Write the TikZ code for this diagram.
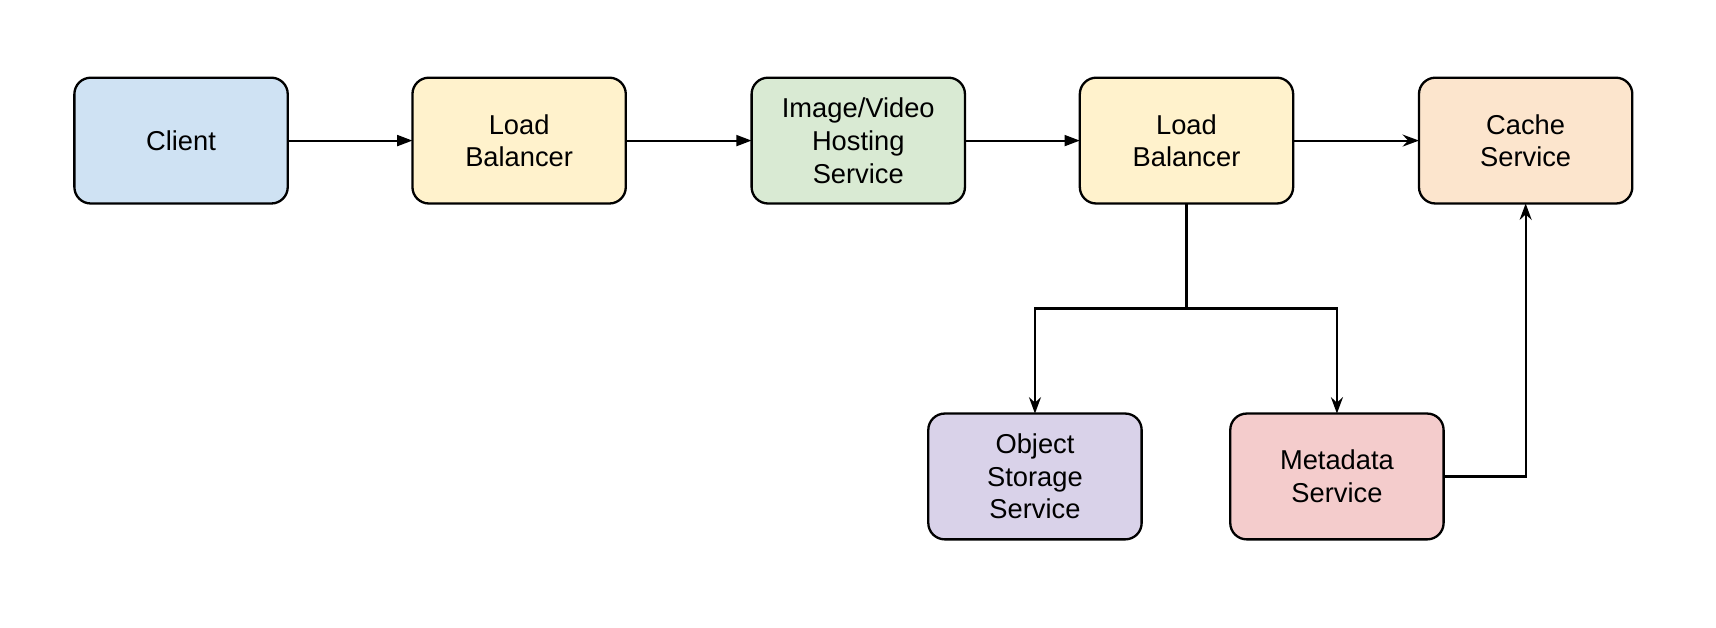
\documentclass[tikz,border=0pt]{standalone}
\usepackage{fontspec}
\setmainfont{Liberation Sans}
\usetikzlibrary{positioning, arrows.meta}

\definecolor{clientblue}{HTML}{CFE2F3}
\definecolor{lbyellow}{HTML}{FFF2CC}
\definecolor{hostgreen}{HTML}{D9EAD3}
\definecolor{cacheorange}{HTML}{FCE5CD}
\definecolor{storepurple}{HTML}{D9D2E9}
\definecolor{metared}{HTML}{F4CCCC}

\begin{document}
\begin{tikzpicture}[
    node distance=1.14cm and 1.14cm,
    service/.style={rectangle, draw=black, line width=0.6pt, outer sep=0pt, rounded corners=0.15cm, minimum width=1.95cm, minimum height=1.15cm, align=center, font=\fontsize{7.1}{8.5}\selectfont},
    flow/.style={-{Triangle[length=0.14cm, width=0.1cm]}, line width=0.55pt},
    link/.style={-{Stealth[length=0.15cm, width=0.11cm, inset=0.05cm]}, line width=0.55pt}
]
\useasboundingbox (-1.655,1.285) rectangle (14.03,-4.455);

% Request path
\node[service, fill=clientblue] (client) {Client};
\node[service, fill=lbyellow, right=of client] (lb1) {Load\\Balancer};
\node[service, fill=hostgreen, right=1.15cm of lb1] (host) {Image/Video\\Hosting\\Service};
\node[service, fill=lbyellow, right=1.05cm of host] (lb2) {Load\\Balancer};
\node[service, fill=cacheorange, right=1.15cm of lb2] (cache) {Cache\\Service};

% Backend
\node[service, fill=storepurple, below=1.92cm of lb2, xshift=-1.385cm] (store) {Object\\Storage\\Service};
\node[service, fill=metared, right=0.81cm of store] (meta) {Metadata\\Service};
\coordinate[below=0.96cm of lb2] (split);

% Connections
\draw[flow] (client) -- (lb1);
\draw[flow] (lb1) -- (host);
\draw[flow] (host) -- (lb2);
\draw[link] (lb2) -- (cache);
\draw[line width=0.55pt] (lb2) -- (split);
\draw[link] (split) -| (store);
\draw[link] (split) -| (meta);
\draw[link] (meta) -| (cache);

\end{tikzpicture}
\end{document}
